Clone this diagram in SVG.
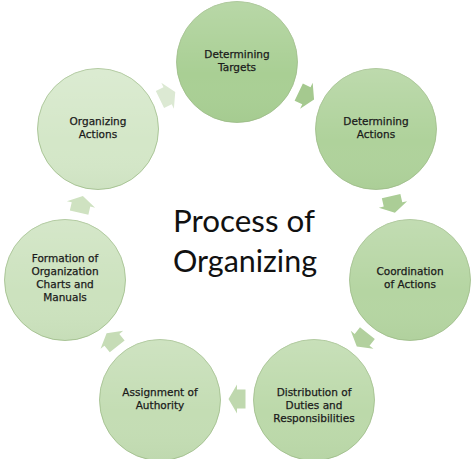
<svg xmlns="http://www.w3.org/2000/svg" xmlns:xlink="http://www.w3.org/1999/xlink" width="474" height="459" viewBox="0 0 474 459">
  <style>
    .node { stroke: #9dbb88; stroke-width: 0.8; }
    .shine { fill: url(#shine); stroke: none; }
    .lbl { font-family: "DejaVu Sans", "Liberation Sans", sans-serif; font-size: 10.5px; fill: #1a1a1a; stroke: #1a1a1a; stroke-width: 0.25; text-anchor: middle; }
    .title { font-family: Lato, "Open Sans", "Liberation Sans", sans-serif; font-size: 31px; fill: #111; }
  </style>
  <defs>
    <linearGradient id="shine" x1="0" y1="0" x2="0" y2="1">
      <stop offset="0" stop-color="#ffffff" stop-opacity="0.18"/>
      <stop offset="0.6" stop-color="#ffffff" stop-opacity="0"/>
      <stop offset="1" stop-color="#6a8f55" stop-opacity="0.06"/>
    </linearGradient>
    <polygon id="arr" points="-8.5,-9.5 0,-9.5 0,-14.5 8.5,0 0,14.5 0,9.5 -8.5,9.5"/>
  </defs>
  <rect width="474" height="459" fill="#ffffff"/>

  <g id="connectors">
    <use xlink:href="#arr" href="#arr" fill="#a5c98f" transform="translate(306.4,95.8) rotate(25.71)"/>
    <use xlink:href="#arr" href="#arr" fill="#abcd96" transform="translate(393,204.4) rotate(77.14)"/>
    <use xlink:href="#arr" href="#arr" fill="#b2d09e" transform="translate(362.1,339.8) rotate(128.57)"/>
    <use xlink:href="#arr" href="#arr" fill="#bfd8ae" transform="translate(237,399) rotate(180)"/>
    <use xlink:href="#arr" href="#arr" fill="#c6dcb6" transform="translate(111.9,339.8) rotate(231.43)"/>
    <use xlink:href="#arr" href="#arr" fill="#cfe2c1" transform="translate(81,204.4) rotate(282.86)"/>
    <use xlink:href="#arr" href="#arr" fill="#dce9d3" transform="translate(167.6,95.8) rotate(334.29)"/>
  </g>

  <g id="node-determining-targets">
    <circle class="node" cx="237" cy="62" r="60.5" fill="#a9cf94"/>
    <circle class="shine" cx="237" cy="62" r="60.5"/>
    <text class="lbl" x="237" y="58">Determining</text>
    <text class="lbl" x="237" y="71">Targets</text>
  </g>
  <g id="node-determining-actions">
    <circle class="node" cx="376" cy="129" r="60.5" fill="#afd29b"/>
    <circle class="shine" cx="376" cy="129" r="60.5"/>
    <text class="lbl" x="376" y="125">Determining</text>
    <text class="lbl" x="376" y="138">Actions</text>
  </g>
  <g id="node-coordination">
    <circle class="node" cx="410" cy="280" r="60.5" fill="#b5d5a2"/>
    <circle class="shine" cx="410" cy="280" r="60.5"/>
    <text class="lbl" x="410" y="275">Coordination</text>
    <text class="lbl" x="410" y="288">of Actions</text>
  </g>
  <g id="node-distribution">
    <circle class="node" cx="314" cy="400" r="60.5" fill="#bcd9aa"/>
    <circle class="shine" cx="314" cy="400" r="60.5"/>
    <text class="lbl" x="314" y="396">Distribution of</text>
    <text class="lbl" x="314" y="409">Duties and</text>
    <text class="lbl" x="314" y="422">Responsibilities</text>
  </g>
  <g id="node-assignment">
    <circle class="node" cx="160" cy="400" r="60.5" fill="#c4ddb4"/>
    <circle class="shine" cx="160" cy="400" r="60.5"/>
    <text class="lbl" x="160" y="396">Assignment of</text>
    <text class="lbl" x="160" y="409">Authority</text>
  </g>
  <g id="node-formation">
    <circle class="node" cx="65" cy="280" r="60.5" fill="#cce2be"/>
    <circle class="shine" cx="65" cy="280" r="60.5"/>
    <text class="lbl" x="65" y="262">Formation of</text>
    <text class="lbl" x="65" y="275">Organization</text>
    <text class="lbl" x="65" y="288">Charts and</text>
    <text class="lbl" x="65" y="301">Manuals</text>
  </g>
  <g id="node-organizing">
    <circle class="node" cx="98" cy="129" r="60.5" fill="#d4e7c8"/>
    <circle class="shine" cx="98" cy="129" r="60.5"/>
    <text class="lbl" x="98" y="125">Organizing</text>
    <text class="lbl" x="98" y="138">Actions</text>
  </g>

  <g id="title">
    <text class="title" x="173" y="232" textLength="142" lengthAdjust="spacingAndGlyphs">Process of</text>
    <text class="title" x="173" y="272" textLength="144" lengthAdjust="spacingAndGlyphs">Organizing</text>
  </g>
</svg>
